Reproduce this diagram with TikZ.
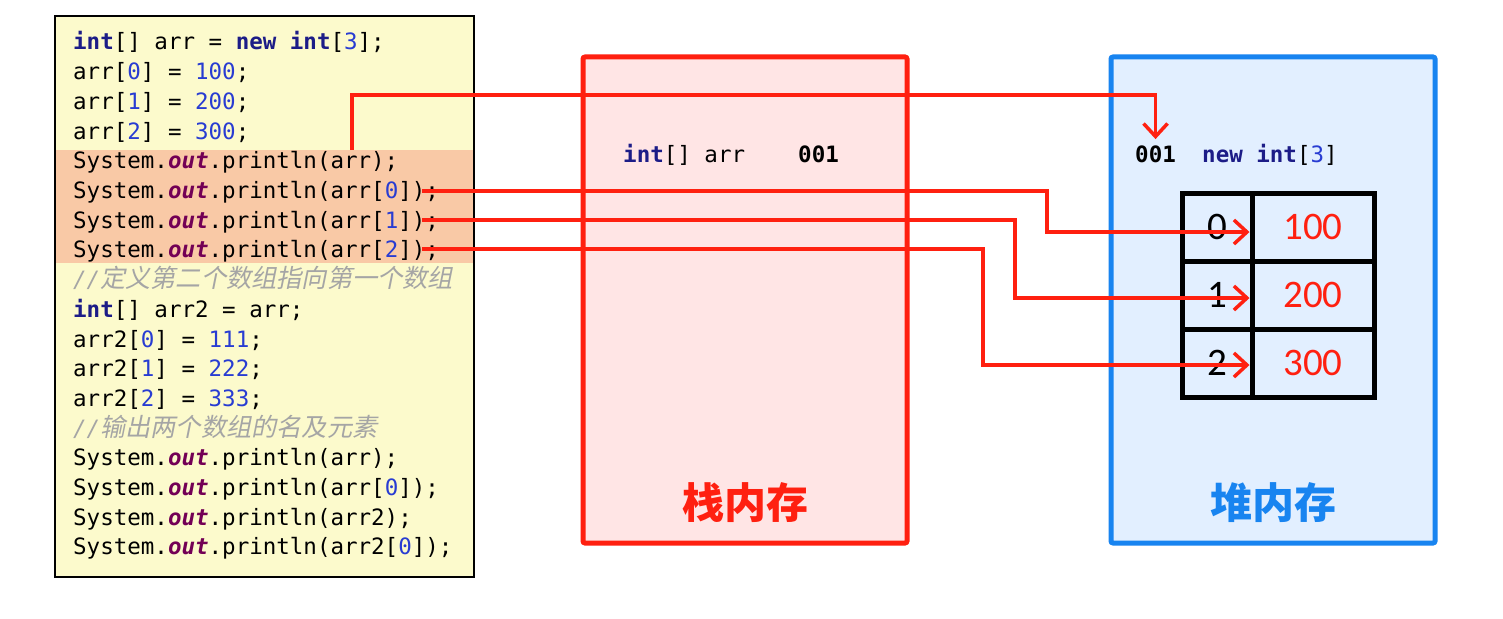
\documentclass[tikz,border=0pt]{standalone}
\usepackage{fontspec}
\setmonofont{DejaVu Sans Mono}
\newfontfamily\cjk{Noto Sans CJK SC}
\newfontfamily\cjkit[FakeSlant=0.2]{Noto Sans CJK SC}
\newfontfamily\cellfont{Carlito}
\usetikzlibrary{arrows.meta,positioning}

\definecolor{codebg}{RGB}{252,250,204}
\definecolor{bandbg}{RGB}{249,201,166}
\definecolor{stackred}{RGB}{255,32,16}
\definecolor{stackbg}{RGB}{255,229,229}
\definecolor{heapblue}{RGB}{24,132,240}
\definecolor{heapbg}{RGB}{226,239,255}
\definecolor{kwblue}{RGB}{28,28,135}
\definecolor{numblue}{RGB}{40,60,210}
\definecolor{fldpurple}{RGB}{115,0,85}
\definecolor{cmtgray}{RGB}{165,165,165}

\newcommand{\kw}[1]{\textcolor{kwblue}{\bfseries #1}}
\newcommand{\nm}[1]{\textcolor{numblue}{#1}}
\newcommand{\prt}{System.\textcolor{fldpurple}{\bfseries\itshape out}.println}
\newcommand{\cmt}[1]{\textcolor{cmtgray}{\itshape //\cjkit\fontsize{25.2}{27}\selectfont #1}}

\begin{document}
\begin{tikzpicture}[x=1pt, y=-1pt,
      code/.style={anchor=base west, inner sep=0pt, font=\ttfamily\fontsize{22.5}{24}\selectfont},
      membox/.style={draw, line width=5pt, rounded corners=2pt, minimum width=324pt, minimum height=486pt},
      memlabel/.style={font=\cjk\bfseries\fontsize{42}{44}\selectfont},
      idxcell/.style={draw=black, line width=5pt, minimum width=70pt, minimum height=68pt, inner sep=0pt,
      font=\cellfont\fontsize{39}{41}\selectfont},
      valcell/.style={idxcell, minimum width=122pt, text=stackred},
      ptr/.style={draw=stackred, line width=3.5pt, -{Straight Barb[length=13pt,width=24pt]}},
      >=Stealth]
    \useasboundingbox[fill=white] (0,0) rectangle (1503,618);

    % code listing
    \node[draw=black, line width=2pt, fill=codebg, minimum width=419pt, minimum height=561pt] (code) at (264.5,296.5) {};
    \node[fill=bandbg, minimum width=417pt, minimum height=113pt, inner sep=0pt] (band) at (264.5,206.5) {};
    \node[code] (l1) at (73,50) {\kw{int}[] arr = \kw{new} \kw{int}[\nm{3}];};
    \node[code] (l2) at (73,79.7) {arr[\nm{0}] = \nm{100};};
    \node[code] (l3) at (73,109.4) {arr[\nm{1}] = \nm{200};};
    \node[code] (l4) at (73,139.1) {arr[\nm{2}] = \nm{300};};
    \node[code] (l5) at (73,168.8) {\prt(arr);};
    \node[code] (l6) at (73,198.5) {\prt(arr[\nm{0}]);};
    \node[code] (l7) at (73,228.2) {\prt(arr[\nm{1}]);};
    \node[code] (l8) at (73,257.9) {\prt(arr[\nm{2}]);};
    \node[code] (l9) at (73,287.6) {\cmt{定义第二个数组指向第一个数组}};
    \node[code] (l10) at (73,317.3) {\kw{int}[] arr2 = arr;};
    \node[code] (l11) at (73,347) {arr2[\nm{0}] = \nm{111};};
    \node[code] (l12) at (73,376.7) {arr2[\nm{1}] = \nm{222};};
    \node[code] (l13) at (73,406.4) {arr2[\nm{2}] = \nm{333};};
    \node[code] (l14) at (73,436.1) {\cmt{输出两个数组的名及元素}};
    \node[code] (l15) at (73,465.8) {\prt(arr);};
    \node[code] (l16) at (73,495.5) {\prt(arr[\nm{0}]);};
    \node[code] (l17) at (73,525.2) {\prt(arr2);};
    \node[code] (l18) at (73,554.9) {\prt(arr2[\nm{0}]);};

    % stack memory
    \node[membox, draw=stackred, fill=stackbg] (stack) at (745,300) {};
    \node[memlabel, text=stackred] (stacklbl) at (745,503) {栈内存};
    \node[code] (svar) at (623,162) {\kw{int}[] arr};
    \node[code, font=\ttfamily\bfseries\fontsize{22.5}{24}\selectfont] (s001) at (798,162) {001};

    % heap memory
    \node[membox, draw=heapblue, fill=heapbg] (heap) at (1273,300) {};
    \node[memlabel, text=heapblue] (heaplbl) at (1273,503) {堆内存};
    \node[code, font=\ttfamily\bfseries\fontsize{22.5}{24}\selectfont] (h001) at (1135,162) {001};
    \node[code] (hnew) at (1202,162) {\kw{new} \kw{int}[\nm{3}]};

    % array cells
    \node[idxcell] (i0) at (1217,227) {0};
    \node[valcell] (v0) at (1313,227) {100};
    \node[idxcell] (i1) at (1217,295) {1};
    \node[valcell] (v1) at (1313,295) {200};
    \node[idxcell] (i2) at (1217,363) {2};
    \node[valcell] (v2) at (1313,363) {300};

    % references
    \coordinate (s1) at (352,150);
    \coordinate (s2) at (422,191);
    \coordinate (s3) at (422,220);
    \coordinate (s4) at (422,249);
    \draw[ptr, shorten >=6pt] (s1) -- ++(0,-55) -| (h001.north);
    \draw[ptr] (s2) -- ++(625,0) |- ([yshift=-5pt]v0.west);
    \draw[ptr] (s3) -- ++(593,0) |- ([yshift=-3pt]v1.west);
    \draw[ptr] (s4) -- ++(561,0) |- ([yshift=-2pt]v2.west);
  \end{tikzpicture}
\end{document}
